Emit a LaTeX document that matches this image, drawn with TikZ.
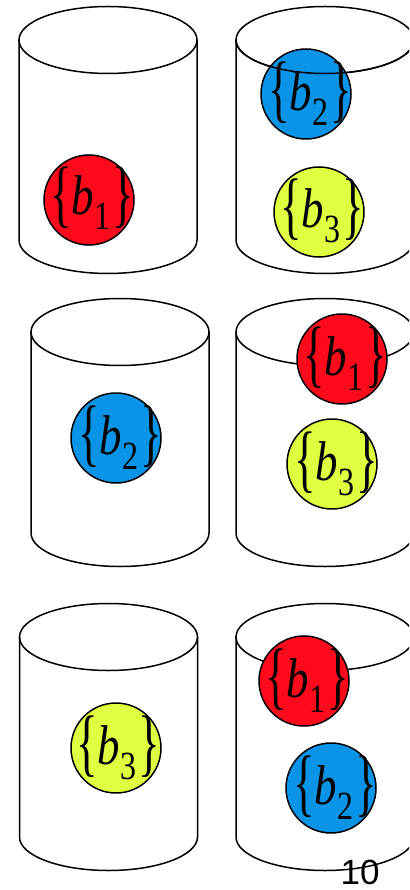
\documentclass[tikz,border=0pt]{standalone}
\usepackage{graphicx}
\usepackage{fontspec}
\setmainfont{Liberation Serif}
\newfontfamily\timesfont{Liberation Serif}
\newfontfamily\arialfont{Liberation Sans}
\definecolor{ballred}{HTML}{FF0A1C}
\definecolor{ballblue}{HTML}{0A94E8}
\definecolor{ballyellow}{HTML}{E1FF41}
\newcommand\bset[1]{\timesfont\scalebox{0.8}[1]{\fontsize{56}{56}\selectfont\raisebox{-3pt}{\scalebox{1}[1.33]{\{}}\textit{b}\kern1pt\raisebox{-15pt}{\fontsize{40}{40}\selectfont #1}\kern2pt\raisebox{-3pt}{\scalebox{1}[1.33]{\}}}}}
\newcommand\cylinder[3]{%
  \draw[outline] (#1,#2) ellipse [x radius=89, y radius=33.5];
  \draw[outline] (#1-89,#2) -- (#1-89,#3) arc[start angle=180, end angle=0, x radius=89, y radius=33.5] -- (#1+89,#2);
}
\tikzset{
  outline/.style={line width=1.5pt, black},
  ball/.style={circle, draw=black, line width=1.5pt, minimum size=90pt, inner sep=0pt},
  settext/.style={anchor=base, inner sep=0pt, text=black},
}
\begin{document}
\begin{tikzpicture}[x=1pt, y=-1pt]
\useasboundingbox (0,0) rectangle (409,890);
\clip (0,0) rectangle (409,890);
\fill[white] (0,0) rectangle (409,890);
% cylinders
\cylinder{108}{40}{240}
\cylinder{325}{40}{240}
\cylinder{120}{332}{533}
\cylinder{325}{332}{533}
\cylinder{108.5}{637}{837}
\cylinder{325}{637}{837}
% row 1
\node[ball, fill=ballred] (r1a) at (89,200) {};
\node[settext] (t1a) at (92,215) {\bset{1}};
\node[ball, fill=ballblue] (r1b) at (306,94) {};
\node[settext] (t1b) at (310,111) {\bset{2}};
\draw[outline] (325-89,40) arc[start angle=180, end angle=0, x radius=89, y radius=33.5];
\node[ball, fill=ballyellow] (r1c) at (319,212) {};
\node[settext] (t1c) at (322,228) {\bset{3}};
% row 2
\node[ball, fill=ballblue] (r2a) at (116,438) {};
\node[settext] (t2a) at (120,454) {\bset{2}};
\node[ball, fill=ballred] (r2b) at (342,359) {};
\node[settext] (t2b) at (345,375) {\bset{1}};
\node[ball, fill=ballyellow] (r2c) at (332,464) {};
\node[settext] (t2c) at (336,480) {\bset{3}};
% row 3
\node[ball, fill=ballyellow] (r3a) at (116,748) {};
\node[settext] (t3a) at (118,764) {\bset{3}};
\node[ball, fill=ballred] (r3b) at (304,681) {};
\node[settext] (t3b) at (307,697) {\bset{1}};
\node[ball, fill=ballblue] (r3c) at (331,788) {};
\node[settext] (t3c) at (335,804) {\bset{2}};
% page number
\node[anchor=base, inner sep=0pt, font=\arialfont\fontsize{35}{35}\selectfont] (pg) at (360,884) {10};
\end{tikzpicture}
\end{document}
